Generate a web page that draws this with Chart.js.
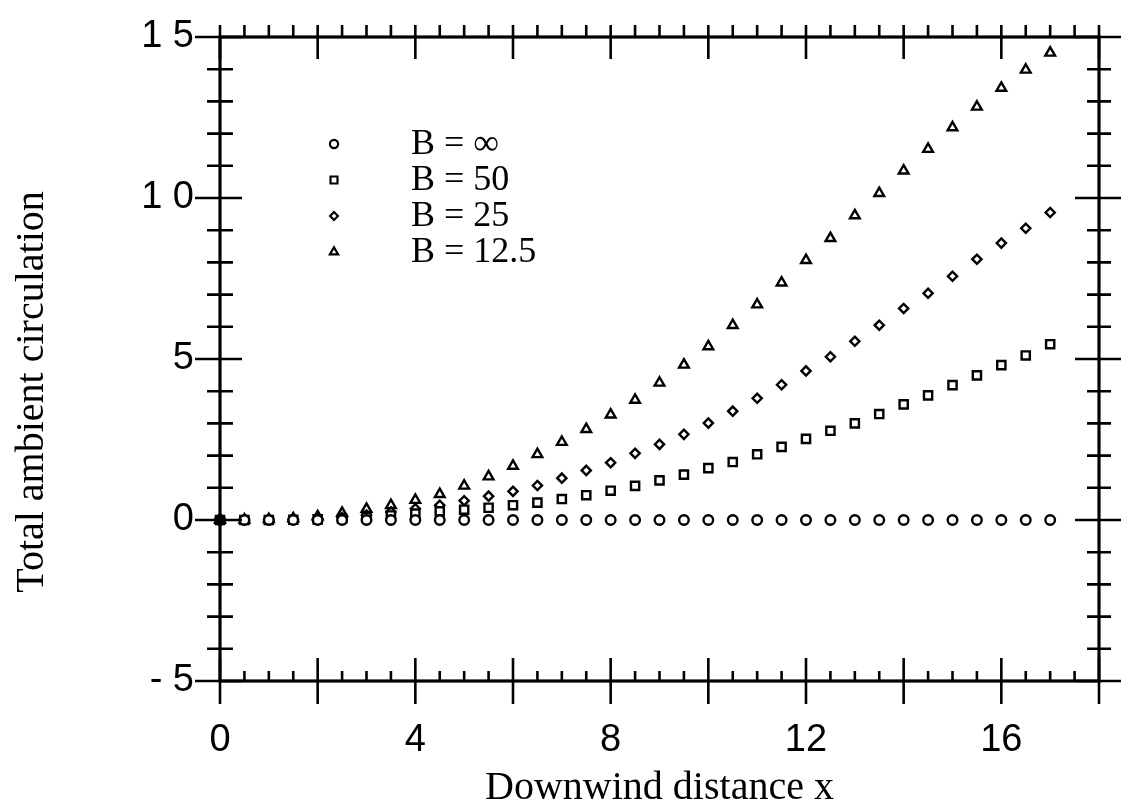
<!DOCTYPE html>
<html>
<head>
<meta charset="utf-8">
<title>Total ambient circulation</title>
<script src="https://cdn.jsdelivr.net/npm/chart.js@4/dist/chart.umd.min.js"></script>
<style>
  body { margin: 0; background: #fff; }
  #wrap { width: 1122px; height: 812px; }
</style>
</head>
<body>
<div id="wrap"><canvas id="myChart" width="1122" height="812"></canvas></div>
<script>
// downwind distance of each sample
const xValues = [0, 0.5, 1, 1.5, 2, 2.5, 3, 3.5, 4, 4.5, 5, 5.5, 6, 6.5, 7, 7.5, 8, 8.5,
  9, 9.5, 10, 10.5, 11, 11.5, 12, 12.5, 13, 13.5, 14, 14.5, 15, 15.5, 16, 16.5, 17];

// total ambient circulation for each B
const bInf = [0, 0, 0, 0, 0, 0, 0, 0, 0, 0, 0, 0, 0, 0, 0, 0, 0, 0,
  0, 0, 0, 0, 0, 0, 0, 0, 0, 0, 0, 0, 0, 0, 0, 0, 0];
const b50 = [0, 0, 0, 0.01, 0.02, 0.04, 0.09, 0.14, 0.20, 0.27, 0.32, 0.38, 0.46, 0.54, 0.65, 0.77, 0.91, 1.06,
  1.23, 1.41, 1.61, 1.80, 2.04, 2.27, 2.52, 2.77, 3.00, 3.29, 3.59, 3.87, 4.19, 4.49, 4.81, 5.11, 5.46];
const b25 = [0, 0, 0.01, 0.02, 0.04, 0.08, 0.15, 0.25, 0.35, 0.46, 0.60, 0.74, 0.89, 1.07, 1.30, 1.54, 1.78, 2.07,
  2.35, 2.66, 3.01, 3.38, 3.78, 4.20, 4.63, 5.07, 5.55, 6.05, 6.57, 7.04, 7.57, 8.10, 8.60, 9.06, 9.55];
const b125 = [0, 0.01, 0.02, 0.05, 0.11, 0.22, 0.34, 0.46, 0.62, 0.80, 1.06, 1.35, 1.68, 2.04, 2.42, 2.82, 3.27, 3.73,
  4.26, 4.82, 5.39, 6.05, 6.69, 7.37, 8.07, 8.75, 9.46, 10.15, 10.85, 11.52, 12.19, 12.83, 13.42, 13.98, 14.51];

const seriesLabels = ['B = \u221E', 'B = 50', 'B = 25', 'B = 12.5'];
const seriesStyles = ['circle', 'rect', 'rectRot', 'triangle'];
const seriesRadius = [4.8, 5.8, 4.6, 5.6];

const xTickLabels = { 0: '0', 4: '4', 8: '8', 12: '12', 16: '16' };
const yTickLabels = { '-5': '- 5', 0: '0', 5: '5', 10: '1 0', 15: '1 5' };
const yTitle = 'Total ambient circulation';

const allSeries = [bInf, b50, b25, b125];

const datasets = allSeries.map(function (vals, i) {
  return {
    label: seriesLabels[i],
    data: xValues.map(function (x, j) { return { x: x, y: vals[j] }; }),
    pointStyle: seriesStyles[i],
    pointRadius: seriesRadius[i],
    pointBorderWidth: 2.4,
    borderColor: '#000',
    // the markers all pile up on the axis at x = 0, which prints as a solid dot
    backgroundColor: function (c) { return c.raw && c.raw.x === 0 ? '#000' : '#fff'; },
    showLine: false,
    clip: false
  };
});

const serif = '"Liberation Serif", "Times New Roman", serif';
const sans = '"Liberation Sans", Arial, sans-serif';

// frame with crossing tick marks, like the old plotting package
const frameTicks = {
  id: 'frameTicks',
  afterDatasetsDraw(chart) {
    const ctx = chart.ctx;
    const a = chart.chartArea;
    const xs = chart.scales.x;
    const ys = chart.scales.y;
    ctx.save();
    ctx.strokeStyle = '#000';
    ctx.lineWidth = 3.2;
    ctx.strokeRect(a.left, a.top, a.right - a.left, a.bottom - a.top);
    ctx.lineWidth = 2.6;
    ctx.beginPath();
    for (let v = 0; v <= 18; v += 0.5) {
      const px = xs.getPixelForValue(v);
      if (v % 2 === 0) {
        ctx.moveTo(px, a.top - 12); ctx.lineTo(px, a.top + 22);
        ctx.moveTo(px, a.bottom - 23); ctx.lineTo(px, a.bottom + 23);
      } else {
        ctx.moveTo(px, a.top - 12); ctx.lineTo(px, a.top);
        ctx.moveTo(px, a.bottom - 10); ctx.lineTo(px, a.bottom);
      }
    }
    for (let v = -5; v <= 15; v++) {
      const py = ys.getPixelForValue(v);
      if (v % 5 === 0) {
        ctx.moveTo(a.left - 25, py); ctx.lineTo(a.left + 22, py);
        ctx.moveTo(a.right - 24, py); ctx.lineTo(a.right + 22, py);
      } else {
        ctx.moveTo(a.left - 13, py); ctx.lineTo(a.left + 13, py);
        ctx.moveTo(a.right - 12, py); ctx.lineTo(a.right + 12, py);
      }
    }
    ctx.stroke();
    ctx.restore();
  }
};

// legend inside the plot and the rotated y title
const innerLegend = {
  id: 'innerLegend',
  afterDatasetsDraw(chart) {
    const ctx = chart.ctx;
    ctx.save();
    chart.data.datasets.forEach(function (ds, i) {
      const y = 144 + i * 36;
      ctx.strokeStyle = '#000';
      ctx.fillStyle = '#fff';
      ctx.lineWidth = 2.2;
      Chart.helpers.drawPoint(ctx, { pointStyle: ds.pointStyle, radius: ds.pointRadius * 0.85, rotation: 0, borderWidth: 2.2 }, 334, y);
      ctx.fillStyle = '#000';
      ctx.font = '36px ' + serif;
      ctx.textAlign = 'left';
      ctx.textBaseline = 'middle';
      ctx.fillText(ds.label, 411, y + 1);
    });
    ctx.translate(32, 392);
    ctx.rotate(-Math.PI / 2);
    ctx.font = '40px ' + serif;
    ctx.textAlign = 'center';
    ctx.textBaseline = 'middle';
    ctx.fillText(yTitle, 0, 0);
    ctx.restore();
  }
};

const ctx = document.getElementById('myChart').getContext('2d');
const chart = new Chart(ctx, {
  type: 'scatter',
  data: { datasets: datasets },
  plugins: [frameTicks, innerLegend],
  options: {
    responsive: false,
    animation: false,
    layout: { padding: { top: 37, right: 23, left: 0, bottom: 0 } },
    plugins: {
      legend: { display: false },
      tooltip: { enabled: false }
    },
    scales: {
      x: {
        type: 'linear',
        min: 0,
        max: 18,
        afterFit: function (s) { s.height = 131; s.paddingLeft = 0; s.paddingRight = 0; },
        grid: { display: false, drawTicks: false },
        border: { display: false },
        ticks: {
          stepSize: 4,
          autoSkip: false,
          maxRotation: 0,
          padding: 37,
          color: '#000',
          font: { family: sans, size: 38 },
          callback: function (v) { return xTickLabels[v] !== undefined ? xTickLabels[v] : ''; }
        },
        title: {
          display: true,
          text: 'Downwind distance x',
          color: '#000',
          padding: { top: 0, bottom: 0 },
          font: { family: serif, size: 40 }
        }
      },
      y: {
        type: 'linear',
        min: -5,
        max: 15,
        afterFit: function (s) { s.width = 220; s.paddingTop = 0; s.paddingBottom = 0; },
        grid: { display: false, drawTicks: false },
        border: { display: false },
        ticks: {
          stepSize: 5,
          padding: 26,
          color: '#000',
          font: { family: sans, size: 38 },
          callback: function (v) { return yTickLabels[v] !== undefined ? yTickLabels[v] : ''; }
        },
        title: { display: false }
      }
    }
  }
});
</script>
</body>
</html>
